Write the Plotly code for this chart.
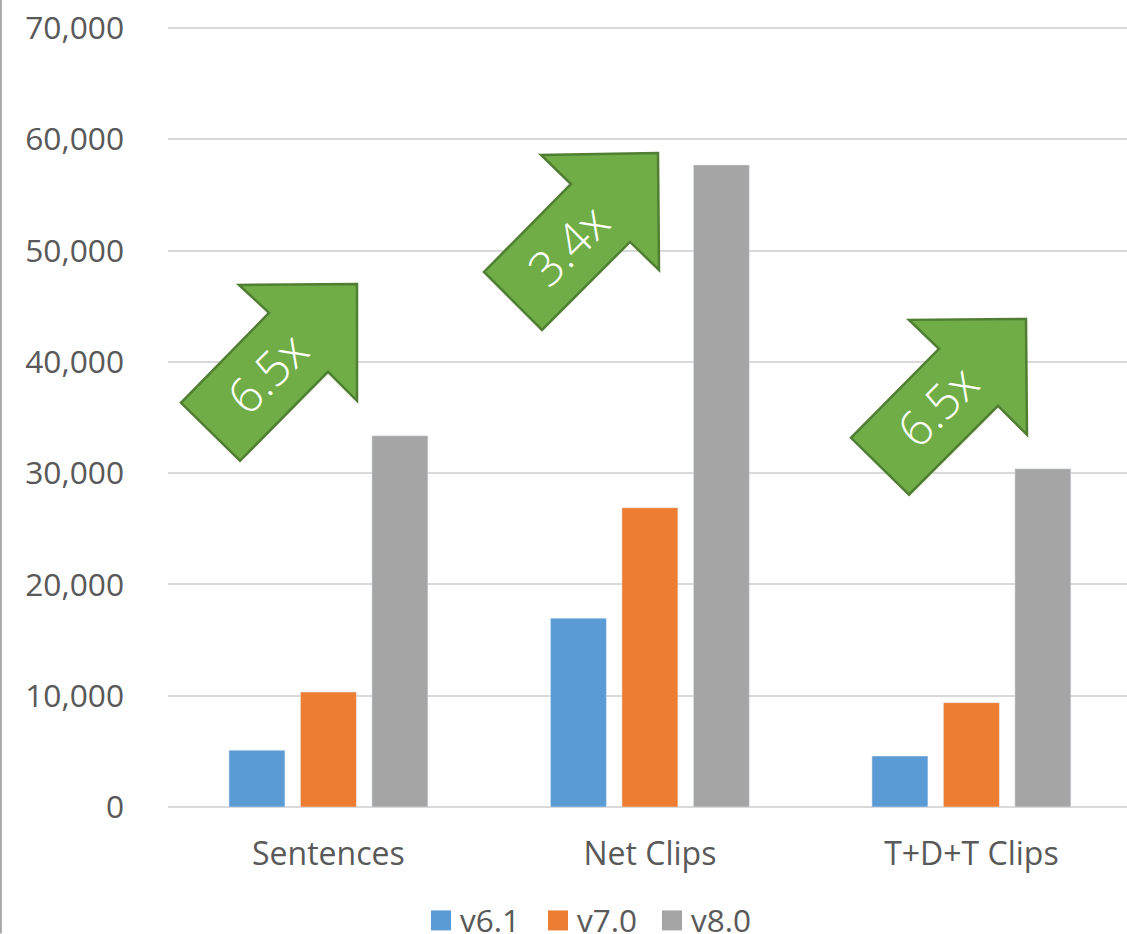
import plotly.graph_objects as go

categories = ["Sentences", "Net Clips", "T+D+T Clips"]
series_names = ["v6.1", "v7.0", "v8.0"]
v61 = [5100, 16970, 4580]
v70 = [10330, 26900, 9380]
v80 = [33360, 57700, 30400]
colors = ["#5B9BD5", "#ED7D31", "#A5A5A5"]
tick_values = [0, 10000, 20000, 30000, 40000, 50000, 60000, 70000]
multipliers = ["6.5x", "3.4x", "6.5x"]

WIDTH, HEIGHT = 1127, 934
Y_MAX = 70100
LEFT, TOP, BOTTOM = 168, 26.9, 126.5
TEXT = "#595959"
FONT = "Open Sans"


def px(x):
    return (x - LEFT) / (WIDTH - LEFT)


def py(y):
    return 1 - (y - TOP) / (HEIGHT - TOP - BOTTOM)


fig = go.Figure()
for name, vals, col in zip(series_names, [v61, v70, v80], colors):
    fig.add_bar(x=categories, y=vals, name=name, marker_color=col, showlegend=False)

shapes = []
annotations = []

# Green growth arrows, outlined in pixel space and labelled along their shaft
arrow_outlines = [
    [(357, 284), (239, 285), (269, 313), (181, 403), (240, 461), (328, 372), (357, 401)],
    [(658, 153), (541, 155), (571, 184), (484, 272), (542, 330), (630, 242), (659, 270)],
    [(1026, 319), (909, 320), (939, 349), (851, 438), (909, 495), (998, 406), (1027, 435)],
]
label_centres = [(267, 373), (568, 245), (937, 406)]
for outline, label, (cx, cy) in zip(arrow_outlines, multipliers, label_centres):
    path = "M " + " L ".join(f"{px(x):.5f},{py(y):.5f}" for x, y in outline) + " Z"
    shapes.append(dict(type="path", xref="paper", yref="paper", path=path,
                       fillcolor="#70AD47", line=dict(color="#507E32", width=2.5)))
    annotations.append(dict(xref="paper", yref="paper", x=px(cx), y=py(cy), text=label,
                            xanchor="center", yanchor="middle",
                            showarrow=False, textangle=-45,
                            font=dict(family=FONT, size=48, color="white", weight=300)))

# Axis line along the left edge of the page
shapes.append(dict(type="line", xref="paper", yref="paper", x0=px(0.6), x1=px(0.6), y0=py(0), y1=py(934),
                   line=dict(color="#A6A6A6", width=2.5)))

# Legend row along the bottom
legend_x = [431, 548, 662]
for name, col, x in zip(series_names, colors, legend_x):
    shapes.append(dict(type="rect", xref="paper", yref="paper", x0=px(x), x1=px(x + 20),
                       y0=py(931), y1=py(911), fillcolor=col, line=dict(width=0)))
    annotations.append(dict(xref="paper", yref="paper", x=px(x + 27), y=py(920), text=name,
                            xanchor="left", yanchor="middle", showarrow=False,
                            font=dict(family=FONT, size=31.5, color=TEXT)))

fig.update_layout(
    width=WIDTH, height=HEIGHT, autosize=False,
    margin=dict(l=LEFT, r=0, t=TOP, b=BOTTOM, pad=0),
    paper_bgcolor="white", plot_bgcolor="white",
    barmode="group", bargap=0.333, bargroupgap=0.217,
    font=dict(family=FONT, size=32, color=TEXT),
    showlegend=False, shapes=shapes, annotations=annotations,
    xaxis=dict(range=[-0.499, 2.484], type="category", showgrid=False, showline=False, ticks="",
               ticklabelstandoff=25, tickfont=dict(family=FONT, size=32, color=TEXT)),
    yaxis=dict(range=[0, Y_MAX], tickvals=tick_values, tickformat=",d", showgrid=True,
               gridcolor="#D9D9D9", gridwidth=2, zeroline=True, zerolinecolor="#D9D9D9",
               zerolinewidth=2, showline=False, ticks="", ticklabelstandoff=43,
               tickfont=dict(family=FONT, size=31.7, color=TEXT), layer="below traces"),
)

fig.write_html("out.html", config=dict(displayModeBar=False))
